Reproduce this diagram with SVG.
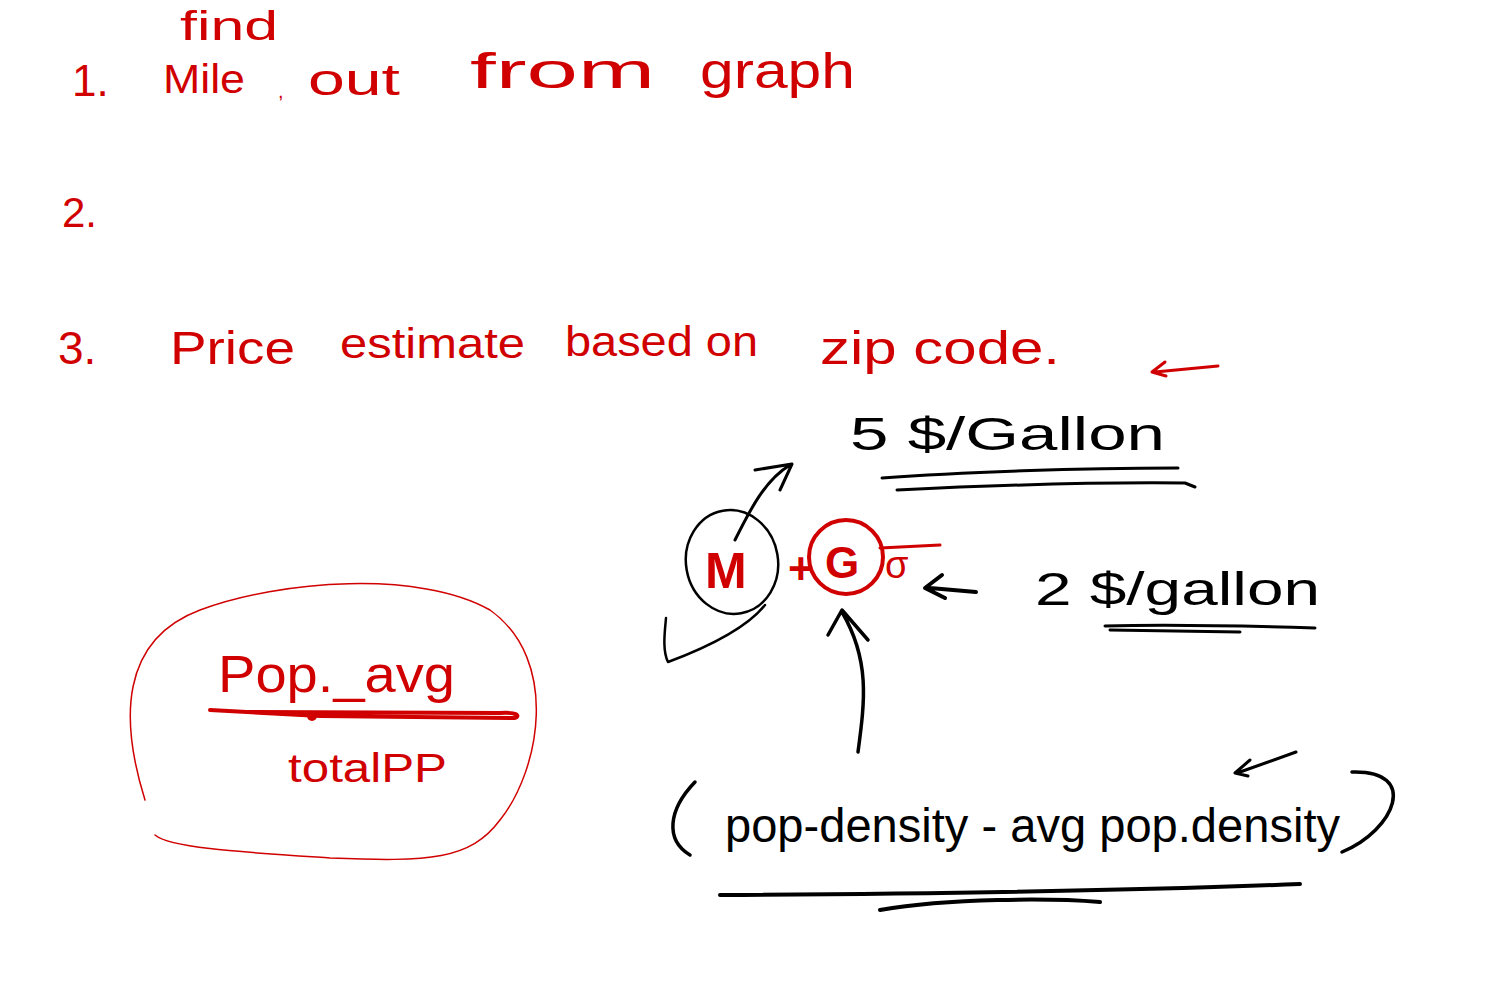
<svg xmlns="http://www.w3.org/2000/svg" width="1500" height="1000" viewBox="0 0 1500 1000">
<style>
.r{fill:#d10000;font-family:"Liberation Sans","DejaVu Sans",sans-serif}
.k{fill:#000;font-family:"Liberation Sans","DejaVu Sans",sans-serif}
.rs{fill:none;stroke:#d10000;stroke-linecap:round;stroke-linejoin:round}
.ks{fill:none;stroke:#000;stroke-linecap:round;stroke-linejoin:round}
</style>
<rect width="1500" height="1000" fill="#fff"/>
<g id="list">
<text class="r" x="180" y="40" font-size="40" textLength="98" lengthAdjust="spacingAndGlyphs">find</text>
<text class="r" x="72" y="96" font-size="44">1.</text>
<text class="r" x="163" y="93" font-size="40" textLength="82" lengthAdjust="spacingAndGlyphs">Mile</text>
<text class="r" x="278" y="98" font-size="20">,</text>
<text class="r" x="308" y="95" font-size="44" textLength="92" lengthAdjust="spacingAndGlyphs">out</text>
<text class="r" x="470" y="88" font-size="50" textLength="185" lengthAdjust="spacingAndGlyphs">from</text>
<text class="r" x="700" y="88" font-size="50" textLength="155" lengthAdjust="spacingAndGlyphs">graph</text>
<text class="r" x="62" y="227" font-size="42">2.</text>
<text class="r" x="58" y="364" font-size="46">3.</text>
<text class="r" x="170" y="364" font-size="46" textLength="125" lengthAdjust="spacingAndGlyphs">Price</text>
<text class="r" x="340" y="358" font-size="42" textLength="185" lengthAdjust="spacingAndGlyphs">estimate</text>
<text class="r" x="565" y="356" font-size="42" textLength="193" lengthAdjust="spacingAndGlyphs">based on</text>
<text class="r" x="820" y="364" font-size="46" textLength="240" lengthAdjust="spacingAndGlyphs">zip code.</text>
<path class="rs" stroke-width="3" d="M1218 366 L1155 372 M1165 362 L1152 372 L1166 376"/>
</g>
<g id="fraction">
<path class="rs" stroke-width="1.5" d="M145 800 C120 720 120 640 200 610 C280 580 420 570 490 610 C560 660 540 770 500 820 C470 860 430 862 330 858 C240 852 170 848 155 835"/>
<text class="r" x="218" y="692" font-size="52" textLength="237" lengthAdjust="spacingAndGlyphs">Pop._avg</text>
<path class="rs" stroke-width="4" d="M210 710 L320 716 L515 718 C520 716 518 712 500 713 L240 712"/>
<circle cx="312" cy="716" r="5" fill="#d10000"/>
<text class="r" x="288" y="782" font-size="40" textLength="159" lengthAdjust="spacingAndGlyphs">totalPP</text>
</g>
<g id="price">
<text class="k" x="850" y="450" font-size="46" textLength="315" lengthAdjust="spacingAndGlyphs">5 $/Gallon</text>
<path class="ks" stroke-width="3" d="M882 478 C960 472 1080 468 1178 468 M897 490 C980 486 1100 482 1185 483 L1195 487"/>
<text class="k" x="1035" y="605" font-size="46" textLength="285" lengthAdjust="spacingAndGlyphs">2 $/gallon</text>
<path class="ks" stroke-width="3" d="M1105 626 C1180 624 1250 626 1315 628 M1110 630 L1240 632"/>
<g id="formula">
<ellipse class="ks" stroke-width="2.5" cx="732" cy="562" rx="46" ry="52" transform="rotate(-10 732 562)"/>
<path class="ks" stroke-width="2.5" d="M765 605 C745 630 700 650 668 662 C662 650 665 630 666 618"/>
<text class="r" x="705" y="588" font-size="50" font-weight="bold">M</text>
<text class="r" x="788" y="584" font-size="44" font-weight="bold">+</text>
<ellipse class="rs" stroke-width="4" cx="846" cy="557" rx="37" ry="37"/>
<text class="r" x="825" y="578" font-size="44" font-weight="bold">G</text>
<text class="r" x="885" y="578" font-size="38">σ</text>
<path class="rs" stroke-width="3" d="M880 548 L940 545"/>
</g>
<path class="ks" stroke-width="3" d="M735 540 C750 510 765 480 790 465 M755 470 L792 464 L780 490"/>
<path class="ks" stroke-width="4" d="M976 592 L930 588 M942 575 L925 588 L945 598"/>
<path class="ks" stroke-width="3.5" d="M858 752 C865 700 870 660 842 612 M828 635 L842 610 L868 640"/>
</g>
<g id="density">
<path class="ks" stroke-width="3.5" d="M695 782 C668 810 665 840 690 855"/>
<text class="k" x="725" y="842" font-size="48" textLength="615" lengthAdjust="spacingAndGlyphs">pop-density - avg pop.density</text>
<path class="ks" stroke-width="3.5" d="M1352 772 C1420 770 1395 830 1342 852"/>
<path class="ks" stroke-width="3" d="M1296 752 L1240 772 M1250 760 L1235 773 L1248 776"/>
<path class="ks" stroke-width="4" d="M720 895 C900 894 1100 892 1300 884 M880 910 C950 898 1050 898 1100 902"/>
</g>
</svg>
